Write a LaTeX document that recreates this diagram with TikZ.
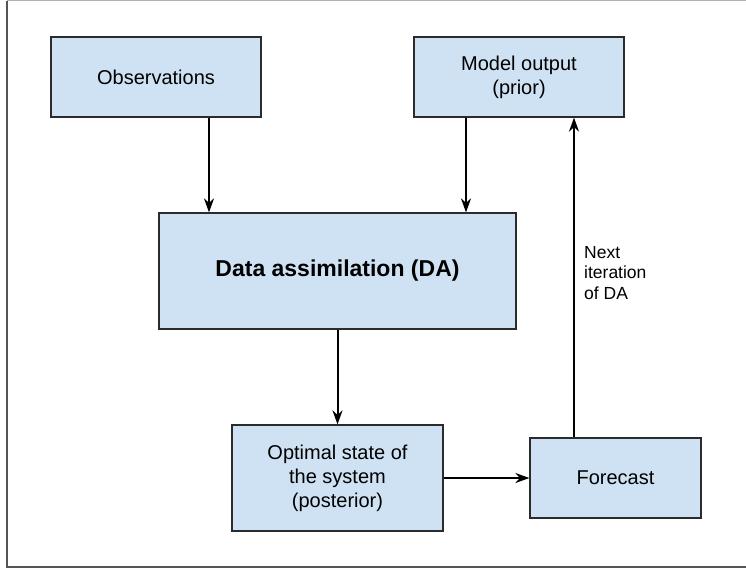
\documentclass[tikz,border=0pt]{standalone}
\usepackage{fontspec}
\setmainfont{Liberation Sans}
\usetikzlibrary{arrows.meta}
\definecolor{boxfill}{HTML}{CFE2F3}
\definecolor{boxline}{HTML}{2B2B2B}
\definecolor{framegray}{HTML}{555555}

\begin{document}
\begin{tikzpicture}[x=1pt,y=-1pt,
  box/.style={draw=boxline, line width=1.2pt, fill=boxfill, inner sep=0pt,
    align=center, font=\fontsize{20}{24}\selectfont},
  flow/.style={draw=black, line width=2pt,
    -{Stealth[length=14pt,width=10pt,inset=4.5pt]}},
  note/.style={font=\fontsize{17.5}{20.5}\selectfont, align=left, inner sep=0pt},
]
\useasboundingbox (0,0) rectangle (746,570);

% outer frame (open towards the right edge)
\draw[framegray, line width=1.3pt] (7,0.6) -- (7,567) -- (746,567);
\draw[black!30, line width=1pt] (7,0.5) -- (746,0.5);

% boxes
\node[box, minimum width=210pt, minimum height=80pt] (obs) at (156,77) {Observations};
\node[box, minimum width=210pt, minimum height=80pt] (model) at (519,77) {Model output\\(prior)};
\node[box, minimum width=357pt, minimum height=116pt,
      font=\bfseries\fontsize{23}{28}\selectfont] (da) at (337.5,271) {Data assimilation (DA)};
\node[box, minimum width=211pt, minimum height=106pt] (opt) at (337.5,478) {Optimal state of\\the system\\(posterior)};
\node[box, minimum width=171pt, minimum height=80pt] (fc) at (615.5,478) {Forecast};

% connector columns
\coordinate (cobs) at (209,0);
\coordinate (cmod) at (466,0);
\coordinate (cnext) at (574,0);

% connectors
\draw[flow] (obs.south -| cobs) -- (da.north -| cobs);
\draw[flow] (model.south -| cmod) -- (da.north -| cmod);
\draw[flow] (da.south) -- (opt.north);
\draw[flow] (opt.east) -- (fc.west);
\draw[flow] (fc.north -| cnext) -- (model.south -| cnext);

% label beside the feedback connector
\node[note, anchor=north west] (lbl) at (584,246) {Next\\iteration\\of DA};
\end{tikzpicture}
\end{document}
